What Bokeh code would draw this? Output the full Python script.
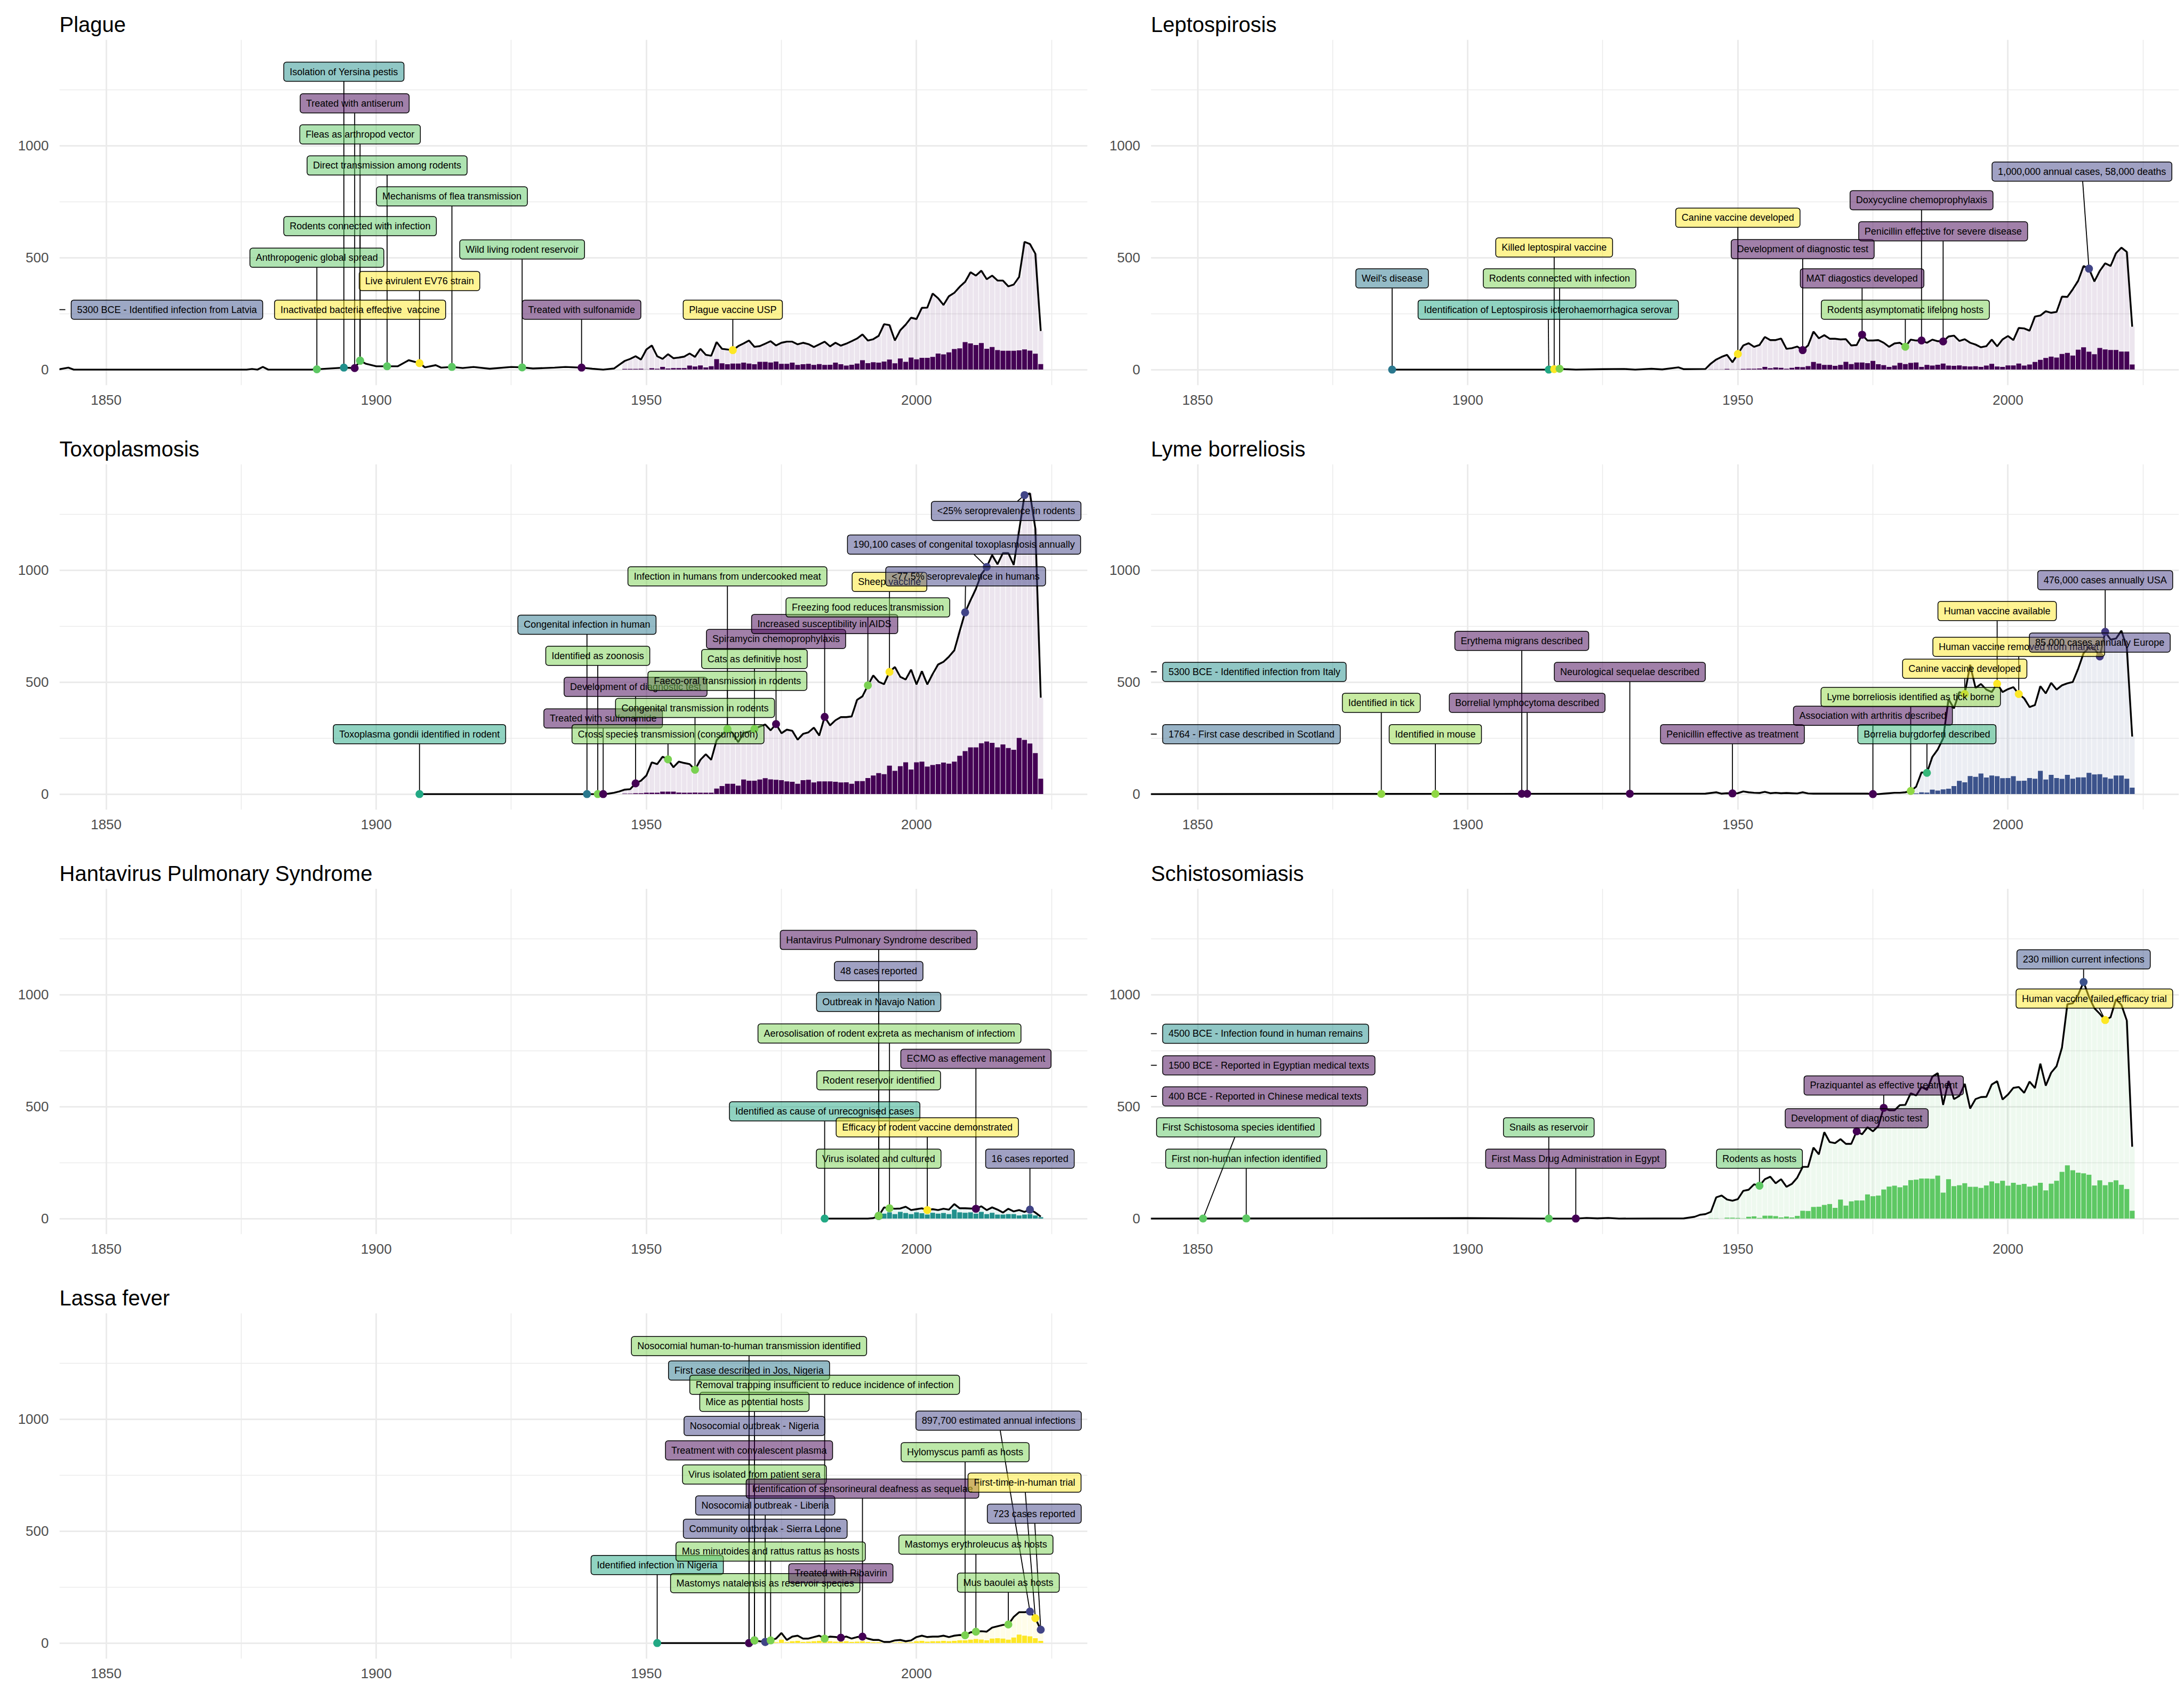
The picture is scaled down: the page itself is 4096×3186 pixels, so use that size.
import numpy as np
from bokeh.plotting import figure
from bokeh.layouts import gridplot
from bokeh.models import ColumnDataSource, Range1d, FixedTicker
from bokeh.core.properties import value
from bokeh.embed import file_html
from bokeh.resources import INLINE

FONT = "Liberation Sans"
VIR5 = ["#440154", "#3B528B", "#21908C", "#5DC863", "#FDE725"]
VIR6 = ["#440154", "#414487", "#2A788E", "#22A884", "#7AD151", "#FDE725"]
VIR7 = ["#440154", "#443A83", "#31688E", "#21908C", "#35B779", "#8FD744", "#FDE725"]

# ---------------- Plague ----------------
plague_pre_x = [1841, 1843, 1844, 1876, 1877, 1878, 1879, 1880, 1888, 1890, 1892, 1894, 1896, 1897, 1898, 1900,
                1902, 1904, 1906, 1908, 1909, 1911, 1912, 1914, 1916, 1918, 1921, 1925, 1927, 1929, 1933, 1935,
                1938, 1940, 1942, 1944]
plague_pre_y = [0, 9, 0, 0, 3, 0, 12, 0, 0, 3, 6, 9, 7, 40, 27, 15,
                15, 15, 42, 29, 10, 20, 9, 12, 7, 12, 4, 12, 10, 5, 9, 12,
                9, 4, 0, 5]
plague_line = ([22, 39, 48, 60, 45] +
               [90, 108, 60, 48, 69, 51, 54, 58, 72, 57] +
               [93, 66, 62, 123, 93, 90, 87, 105, 117, 130] +
               [102, 105, 116, 127, 108, 120, 125, 125, 113, 120] +
               [114, 101, 113, 125, 104, 120, 107, 116, 127, 139] +
               [157, 130, 136, 151, 203, 199, 130, 176, 201, 232] +
               [226, 276, 277, 340, 319, 289, 328, 343, 370, 392] +
               [435, 420, 442, 404, 420, 398, 398, 372, 380, 414] +
               [571, 561, 518, 173])
plague_dark = ([3, 3, 3, 4] +
               [1, 6, 4, 12, 5, 7, 7, 7, 18, 14] +
               [19, 10, 15, 47, 28, 24, 27, 27, 31, 27] +
               [24, 35, 35, 32, 36, 26, 26, 31, 21, 24] +
               [26, 21, 25, 21, 22, 31, 24, 18, 22, 27] +
               [42, 29, 33, 31, 36, 45, 28, 50, 35, 54] +
               [46, 53, 53, 57, 72, 68, 77, 92, 95, 123] +
               [117, 110, 119, 93, 101, 87, 84, 84, 84, 86] +
               [90, 85, 71, 25])
plague_ev_year = [1889, 1894, 1896, 1897, 1897, 1897, 1902, 1908, 1914, 1927, 1938, 1966]
plague_ev_label = ["Anthropogenic global spread", "Isolation of Yersina pestis", "Treated with antiserum",
                   "Inactivated bacteria effective\u00a0 vaccine", "Fleas as arthropod vector",
                   "Rodents connected with infection", "Direct transmission among rodents",
                   "Live avirulent EV76 strain", "Mechanisms of flea transmission", "Wild living rodent reservoir",
                   "Treated with sulfonamide", "Plague vaccine USP"]
plague_ev_cat = [3, 2, 0, 4, 3, 3, 3, 4, 3, 3, 0, 4]
plague_lab_x = [1889, 1894, 1896, 1897, 1897, 1897, 1902, 1908, 1914, 1927, 1938, 1966]
plague_lab_y = [500, 1331, 1190, 268, 1051, 641, 912, 396, 774, 537, 268, 268]
plague_bce_label = ["5300 BCE - Identified infection from Latvia"]
plague_bce_cat = [1]
plague_bce_y = [268]

# ---------------- Leptospirosis ----------------
lepto_pre_x = [1886, 1915, 1916, 1917, 1918, 1920, 1925, 1929, 1931, 1934, 1936, 1939, 1940, 1944]
lepto_pre_y = [0, 0, 2, 4, 2, 0, 2, 3, 0, 4, 1, 10, 2, 3]
lepto_line = ([27, 45, 57, 66, 33] +
              [70, 108, 118, 102, 110, 146, 132, 132, 139, 93] +
              [96, 103, 87, 108, 170, 140, 154, 138, 138, 135] +
              [136, 108, 110, 156, 130, 130, 132, 120, 102, 117] +
              [120, 102, 134, 130, 130, 120, 134, 127, 126, 148] +
              [152, 128, 136, 120, 112, 100, 105, 134, 104, 135] +
              [150, 132, 186, 184, 174, 237, 242, 261, 254, 258] +
              [326, 325, 359, 397, 463, 451, 394, 441, 475, 463] +
              [520, 545, 526, 192])
lepto_dark = ([1, 1, 1, 3, 1] +
              [1, 3, 4, 4, 5, 12, 6, 10, 8, 4] +
              [8, 12, 11, 16, 34, 27, 21, 21, 17, 21] +
              [35, 25, 32, 32, 29, 39, 24, 20, 12, 18] +
              [30, 25, 30, 32, 12, 21, 18, 22, 27, 18] +
              [17, 19, 15, 14, 15, 12, 18, 26, 14, 12] +
              [19, 19, 27, 18, 23, 34, 44, 52, 58, 54] +
              [70, 75, 63, 89, 100, 80, 69, 97, 90, 88] +
              [88, 81, 81, 23])
lepto_ev_year = [1886, 1915, 1916, 1917, 1950, 1962, 1973, 1981, 1984, 1988, 2015]
lepto_ev_label = ["Weil's disease", "Identification of Leptospirosis icterohaemorrhagica serovar",
                  "Killed leptospiral vaccine", "Rodents connected with infection", "Canine vaccine developed",
                  "Development of diagnostic test", "MAT diagostics developed", "Rodents asymptomatic lifelong hosts",
                  "Doxycycline chemoprophylaxis", "Penicillin effective for severe disease",
                  "1,000,000 annual cases, 58,000 deaths"]
lepto_ev_cat = [2, 3, 5, 4, 5, 0, 0, 4, 0, 0, 1]
lepto_lab_x = [1886, 1914.9, 1916, 1917, 1950, 1962, 1973, 1981, 1984, 1988, 2013.7]
lepto_lab_y = [408, 268, 546, 408, 679, 538, 408, 268, 757, 618, 885]

# ---------------- Toxoplasmosis ----------------
toxo_pre_x = [1908, 1942, 1943, 1944]
toxo_pre_y = [0, 0, 2, 6]
toxo_line = ([12, 20, 22, 48, 60] +
             [83, 142, 134, 167, 155, 120, 145, 139, 134, 109] +
             [153, 178, 153, 241, 265, 291, 272, 232, 274, 279] +
             [291, 302, 311, 285, 313, 272, 288, 283, 243, 269] +
             [276, 297, 262, 345, 307, 330, 344, 344, 347, 421] +
             [437, 486, 530, 502, 491, 546, 568, 524, 512, 556] +
             [490, 549, 490, 537, 579, 591, 614, 642, 728, 812] +
             [866, 917, 982, 1015, 1068, 1027, 1077, 1077, 1024, 1178] +
             [1336, 1344, 1187, 431])
toxo_dark = ([2, 2, 4, 4] +
             [6, 6, 6, 11, 11, 11, 7, 6, 6, 7] +
             [6, 6, 6, 25, 36, 46, 46, 38, 65, 60] +
             [60, 65, 71, 66, 64, 62, 57, 55, 46, 62] +
             [64, 52, 57, 57, 57, 55, 52, 53, 46, 58] +
             [58, 72, 83, 94, 89, 127, 104, 125, 142, 110] +
             [142, 145, 123, 130, 134, 141, 136, 145, 171, 192] +
             [209, 209, 227, 235, 229, 209, 222, 206, 198, 251] +
             [242, 226, 183, 69])
toxo_ev_year = [1908, 1939, 1941, 1942, 1948, 1954, 1959, 1965, 1965, 1970, 1974, 1983, 1991, 1995, 2009, 2013, 2020]
toxo_ev_label = ["Toxoplasma gondii identified in rodent", "Congenital infection in human", "Identified as zoonosis",
                 "Treated with sulfonamide", "Development of diagnostic test",
                 "Cross species transmission (consumption)", "Congenital transmission in rodents",
                 "Infection in humans from undercooked meat", "Faeco-oral transmission in rodents",
                 "Cats as definitive host", "Spiramycin chemoprophylaxis", "Increased susceptibility in AIDS",
                 "Freezing food reduces transmission", "Sheep vaccine", "<77.5% seroprevalence in humans",
                 "190,100 cases of congenital toxoplasmosis annually", "<25% seroprevalence in rodents"]
toxo_ev_cat = [3, 2, 4, 0, 0, 4, 4, 4, 4, 4, 0, 0, 4, 5, 1, 1, 1]
toxo_lab_x = [1908, 1939, 1941, 1942, 1948, 1954, 1959, 1965, 1965, 1970, 1974, 1983, 1991, 1995, 2009.1, 2008.8,
              2016.6]
toxo_lab_y = [268, 757, 618, 338, 479, 268, 385, 973, 506, 604, 693, 760, 834, 948, 973, 1115, 1265]

# ---------------- Lyme borreliosis ----------------
lyme_pre_x = [1841, 1944]
lyme_pre_y = [0, 2]
lyme_line = ([5, 8, 2, 4, 3] +
             [4, 12, 8, 6, 5, 10, 4, 6, 4, 5] +
             [4, 3, 8, 3, 2, 2, 2, 2, 2, 2] +
             [2, 2, 2, 2, 2, 0, 0, 2, 4, 6] +
             [6, 8, 14, 33, 97, 95, 166, 199, 249, 424] +
             [383, 456, 447, 578, 474, 492, 467, 456, 493, 456] +
             [469, 478, 447, 428, 389, 398, 482, 450, 497, 467] +
             [486, 495, 501, 560, 630, 655, 650, 615, 725, 690] +
             [695, 730, 655, 257])
lyme_dark = ([3, 8, 7, 20, 16, 21, 24] +
             [36, 59, 53, 81, 77, 92, 74, 83, 80, 71] +
             [72, 80, 59, 60, 72, 69, 104, 65, 86, 72] +
             [68, 86, 69, 75, 75, 95, 88, 89, 75, 69] +
             [83, 83, 69, 29])
lyme_ev_year = [1884, 1894, 1910, 1911, 1930, 1949, 1975, 1982, 1985, 1992, 1998, 2002, 2017, 2018]
lyme_ev_label = ["Identified in tick", "Identified in mouse", "Erythema migrans described",
                 "Borrelial lymphocytoma described", "Neurological sequelae described",
                 "Penicillin effective as treatment", "Association with arthritis described",
                 "Lyme borreliosis identified as tick borne", "Borrelia burgdorferi described",
                 "Canine vaccine developed", "Human vaccine available", "Human vaccine removed from market",
                 "85,000 cases annually Europe", "476,000 cases annually USA"]
lyme_ev_cat = [5, 5, 0, 0, 0, 0, 0, 5, 4, 6, 6, 6, 1, 1]
lyme_lab_x = [1884, 1894, 1910, 1911, 1930, 1949, 1975, 1982, 1985, 1992, 1998, 2002, 2017, 2018]
lyme_lab_y = [408, 268, 685, 408, 546, 268, 350, 434, 268, 560, 818, 658, 677, 956]
lyme_bce_label = ["5300 BCE - Identified infection from Italy", "1764 - First case described in Scotland"]
lyme_bce_cat = [3, 2]
lyme_bce_y = [546, 268]

# ---------------- Hantavirus Pulmonary Syndrome ----------------
hanta_pre_x = []
hanta_pre_y = []
hanta_line = ([0, 0, 0, 0, 0, 0, 0, 0, 0, 2] +
              [12, 50, 46, 44, 45, 53, 38, 42, 46, 38] +
              [42, 38, 44, 40, 65, 46, 46, 45, 44, 55] +
              [38, 50, 40, 27, 44, 32, 38, 30, 40, 27] +
              [9])
hanta_dark = ([5, 22, 28, 20, 30, 25, 20, 28, 24, 18] +
              [26, 22, 25, 20, 40, 28, 26, 28, 22, 30] +
              [20, 26, 18, 18, 20, 20, 14, 18, 20, 14] +
              [6])
hanta_ev_year = [1983, 1993, 1993, 1993, 1993, 1993, 1995, 2002, 2011, 2021]
hanta_ev_label = ["Identified as cause of unrecognised cases", "Hantavirus Pulmonary Syndrome described",
                  "48 cases reported", "Outbreak in Navajo Nation", "Rodent reservoir identified",
                  "Virus isolated and cultured", "Aerosolisation of rodent excreta as mechanism of infectiom",
                  "Efficacy of rodent vaccine demonstrated", "ECMO as effective management", "16 cases reported"]
hanta_ev_cat = [3, 0, 1, 2, 4, 4, 4, 5, 0, 1]
hanta_lab_x = [1983, 1993, 1993, 1993, 1993, 1993, 1995, 2002, 2011, 2021]
hanta_lab_y = [479, 1245, 1106, 968, 618, 268, 827, 408, 714, 268]

# ---------------- Schistosomiasis ----------------
schisto_pre_x = [1841, 1900, 1915, 1920, 1922, 1924, 1926, 1928, 1940, 1942, 1943, 1944]
schisto_pre_y = [0, 2, 0, 0, 3, 1, 3, 0, 1, 8, 17, 20]
schisto_line = ([30, 95, 103, 85, 80] +
                [87, 124, 129, 153, 147, 176, 187, 158, 176, 142] +
                [155, 183, 231, 231, 317, 287, 386, 342, 337, 355] +
                [334, 334, 390, 377, 408, 390, 413, 495, 484, 484] +
                [507, 508, 560, 550, 588, 575, 634, 650, 508, 615] +
                [534, 548, 602, 492, 534, 543, 544, 599, 614, 532] +
                [554, 584, 588, 562, 612, 583, 692, 594, 652, 681] +
                [764, 958, 962, 1000, 1057, 990, 940, 915, 887, 900] +
                [980, 955, 885, 321])
schisto_dark = ([1, 1, 0, 4, 4] +
                [3, 1, 8, 10, 3, 13, 13, 11, 5, 9] +
                [5, 12, 35, 34, 52, 53, 61, 65, 48, 85] +
                [58, 77, 81, 81, 108, 100, 103, 130, 143, 147] +
                [140, 148, 172, 174, 179, 179, 178, 192, 116, 176] +
                [145, 149, 158, 142, 142, 137, 148, 166, 158, 169] +
                [147, 160, 151, 155, 143, 147, 160, 126, 156, 169] +
                [209, 238, 216, 205, 202, 196, 148, 171, 149, 163] +
                [171, 151, 132, 35])
schisto_ev_year = [1851, 1859, 1915, 1920, 1954, 1972, 1977, 2014, 2018]
schisto_ev_label = ["First Schistosoma species identified", "First non-human infection identified",
                    "Snails as reservoir", "First Mass Drug Administration in Egypt", "Rodents as hosts",
                    "Development of diagnostic test", "Praziquantel as effective treatment",
                    "230 million current infections", "Human vaccine failed efficacy trial"]
schisto_ev_cat = [3, 3, 3, 0, 3, 0, 0, 1, 4]
schisto_lab_x = [1857.6, 1859, 1915, 1920, 1954, 1972, 1977, 2014, 2016]
schisto_lab_y = [408, 268, 408, 268, 268, 448, 595, 1158, 983]
schisto_bce_label = ["4500 BCE - Infection found in human remains", "1500 BCE - Reported in Egyptian medical texts",
                     "400 BCE - Reported in Chinese medical texts"]
schisto_bce_cat = [2, 0, 0]
schisto_bce_y = [826, 685, 546]

# ---------------- Lassa fever ----------------
lassa_pre_x = [1952, 1968]
lassa_pre_y = [0, 0]
lassa_line = ([0] +
              [12, 8, 5, 12, 20, 45, 14, 29, 33, 20] +
              [20, 27, 33, 20, 29, 27, 24, 29, 20, 27] +
              [29, 20, 14, 14, 5, 5, 12, 14, 8, 12] +
              [27, 33, 27, 29, 29, 33, 27, 33, 36, 35] +
              [48, 51, 53, 51, 69, 75, 81, 83, 117, 138] +
              [138, 141, 111, 60])
lassa_dark = ([3, 15, 4, 8, 10, 5] +
              [6, 8, 10, 5, 8, 6, 6, 8, 5, 6] +
              [8, 5, 3, 3, 1, 1, 2, 3, 2, 3] +
              [8, 10, 6, 8, 8, 10, 8, 10, 12, 12] +
              [15, 18, 16, 12, 20, 22, 20, 15, 25, 38] +
              [33, 30, 22, 10])
lassa_ev_year = [1952, 1969, 1969, 1969, 1970, 1970, 1970, 1972, 1972, 1972, 1973, 1983, 1986, 1990, 2009, 2011,
                 2017, 2021, 2022, 2023]
lassa_ev_label = ["Identified infection in Nigeria", "Nosocomial human-to-human transmission identified",
                  "First case described in Jos, Nigeria", "Treatment with convalescent plasma",
                  "Mice as potential hosts", "Nosocomial outbreak - Nigeria", "Virus isolated from patient sera",
                  "Mastomys natalensis as reservoir species", "Nosocomial outbreak - Liberia",
                  "Community outbreak - Sierra Leone", "Mus minutoides and rattus rattus as hosts",
                  "Removal trapping insufficient to reduce incidence of infection", "Treated with Ribavirin",
                  "Identification of sensorineural deafness as sequelae", "Hylomyscus pamfi as hosts",
                  "Mastomys erythroleucus as hosts", "Mus baoulei as hosts",
                  "897,700 estimated annual infections", "First-time-in-human trial", "723 cases reported"]
lassa_ev_cat = [3, 4, 2, 0, 4, 1, 4, 4, 1, 1, 4, 4, 0, 0, 4, 4, 4, 1, 5, 1]
lassa_lab_x = [1952, 1969, 1969, 1969, 1970, 1970, 1970, 1972, 1972, 1972, 1973, 1983, 1986, 1990, 2009, 2011,
               2017, 2015.2, 2020, 2021.8]
lassa_lab_y = [349, 1327, 1218, 861, 1078, 970, 753, 268, 615, 511, 409, 1154, 312, 690, 853, 440, 270, 994, 717,
               578]

# ---------------- layout ----------------
W, H = 2047, 796
ML, MR, MT, MB = 111, 8, 74, 74
XR = (1841.35, 2031.65)
YR = (-70, 1474)
PX_PER_YR = (W - ML - MR) / (XR[1] - XR[0])
PX_PER_Y = (H - MT - MB) / (YR[1] - YR[0])
BOX_H = 37
HH = BOX_H / 2 / PX_PER_Y
PADX, PADY = 11, 8


def make_panel(title, bar_color, palette, pre_x, pre_y, line_start, line_vals, bar_start, dark_vals,
               ev_year, ev_label, ev_cat, lab_x, lab_y, bce_label=(), bce_cat=(), bce_y=()):
    years = list(range(line_start, line_start + len(line_vals)))
    lx = list(pre_x) + years
    ly = list(pre_y) + list(line_vals)
    p = figure(width=W, height=H, x_range=Range1d(*XR), y_range=Range1d(*YR), output_backend="svg",
               toolbar_location=None, min_border_left=ML, min_border_right=MR, min_border_top=MT,
               min_border_bottom=MB, title=title)
    p.outline_line_color = None
    p.background_fill_color = "white"
    p.border_fill_color = "white"
    p.title.text_font = FONT
    p.title.text_font_size = "40px"
    p.title.text_font_style = "normal"
    p.title.text_color = "black"
    p.title.align = "left"
    p.title.standoff = 14
    p.xaxis.ticker = FixedTicker(ticks=[1850, 1900, 1950, 2000], minor_ticks=[1875, 1925, 1975, 2025])
    p.yaxis.ticker = FixedTicker(ticks=[0, 500, 1000], minor_ticks=[250, 750, 1250])
    for ax in (p.xaxis, p.yaxis):
        ax.axis_line_color = None
        ax.major_tick_line_color = None
        ax.minor_tick_line_color = None
        ax.major_label_text_font = FONT
        ax.major_label_text_font_size = "26px"
        ax.major_label_text_color = "#4D4D4D"
    p.xaxis.major_label_standoff = 12
    p.yaxis.major_label_standoff = 14
    for g in (p.xgrid, p.ygrid):
        g.grid_line_color = "#EBEBEB"
        g.grid_line_width = 3
        g.minor_grid_line_color = "#EBEBEB"
        g.minor_grid_line_width = 1.6

    bar_years = list(range(bar_start, bar_start + len(dark_vals)))
    light = [line_vals[y - line_start] for y in bar_years]
    p.vbar(x=bar_years, top=light, bottom=0, width=0.9, fill_color=bar_color, fill_alpha=0.1, line_color=None)
    p.vbar(x=bar_years, top=dark_vals, bottom=0, width=0.9, fill_color=bar_color, line_color=None)
    p.line(lx, ly, line_color="black", line_width=3.4)

    py = np.interp(ev_year, lx, ly, left=0)
    x0, y0, x1, y1 = [], [], [], []
    for ex, ey, tx, ty in zip(ev_year, py, lab_x, lab_y):
        edge = ty - HH if ty > ey else ty + HH
        if abs(ty - ey) <= HH:
            continue
        xe = ex + (tx - ex) * (edge - ey) / (ty - ey)
        x0.append(ex); y0.append(ey); x1.append(xe); y1.append(edge)
    box_left = XR[0] + 11 / PX_PER_YR
    for by in bce_y:
        x0.append(XR[0] - 10); y0.append(by); x1.append(box_left); y1.append(by)
    p.segment(x0, y0, x1, y1, line_color="black", line_width=1.8)

    p.scatter(ev_year, py, size=15, fill_color=[palette[c] for c in ev_cat], line_color=None)

    common = dict(text_font=value(FONT), text_font_size="18px", text_color="black", text_baseline="middle",
                  background_fill_alpha=0.5, border_line_color="black", border_line_width=1.5,
                  padding=(PADX, PADY), border_radius=5)
    if len(bce_label):
        src_b = ColumnDataSource(dict(x=[box_left + PADX / PX_PER_YR] * len(bce_label), y=list(bce_y),
                                      t=list(bce_label), f=[palette[c] for c in bce_cat]))
        p.text(x="x", y="y", text="t", source=src_b, text_align="left", background_fill_color="f", **common)
    src = ColumnDataSource(dict(x=list(lab_x), y=list(lab_y), t=list(ev_label), f=[palette[c] for c in ev_cat]))
    p.text(x="x", y="y", text="t", source=src, text_align="center", background_fill_color="f", **common)
    return p


p1 = make_panel("Plague", "#440154", VIR5, plague_pre_x, plague_pre_y, 1945, plague_line, 1946, plague_dark,
                plague_ev_year, plague_ev_label, plague_ev_cat, plague_lab_x, plague_lab_y,
                plague_bce_label, plague_bce_cat, plague_bce_y)
p2 = make_panel("Leptospirosis", "#440154", VIR6, lepto_pre_x, lepto_pre_y, 1945, lepto_line, 1945, lepto_dark,
                lepto_ev_year, lepto_ev_label, lepto_ev_cat, lepto_lab_x, lepto_lab_y)
p3 = make_panel("Toxoplasmosis", "#440154", VIR6, toxo_pre_x, toxo_pre_y, 1945, toxo_line, 1946, toxo_dark,
                toxo_ev_year, toxo_ev_label, toxo_ev_cat, toxo_lab_x, toxo_lab_y)
p4 = make_panel("Lyme borreliosis", "#3B528B", VIR7, lyme_pre_x, lyme_pre_y, 1945, lyme_line, 1983, lyme_dark,
                lyme_ev_year, lyme_ev_label, lyme_ev_cat, lyme_lab_x, lyme_lab_y,
                lyme_bce_label, lyme_bce_cat, lyme_bce_y)
p5 = make_panel("Hantavirus Pulmonary Syndrome", "#21908C", VIR6, hanta_pre_x, hanta_pre_y, 1983, hanta_line, 1993,
                hanta_dark, hanta_ev_year, hanta_ev_label, hanta_ev_cat, hanta_lab_x, hanta_lab_y)
p6 = make_panel("Schistosomiasis", "#5DC863", VIR5, schisto_pre_x, schisto_pre_y, 1945, schisto_line, 1945,
                schisto_dark, schisto_ev_year, schisto_ev_label, schisto_ev_cat, schisto_lab_x, schisto_lab_y,
                schisto_bce_label, schisto_bce_cat, schisto_bce_y)
p7 = make_panel("Lassa fever", "#FDE725", VIR6, lassa_pre_x, lassa_pre_y, 1969, lassa_line, 1974, lassa_dark,
                lassa_ev_year, lassa_ev_label, lassa_ev_cat, lassa_lab_x, lassa_lab_y)

grid = gridplot([[p1, p2], [p3, p4], [p5, p6], [p7, None]], toolbar_location=None)
open("out.html", "w").write(file_html(grid, INLINE))
